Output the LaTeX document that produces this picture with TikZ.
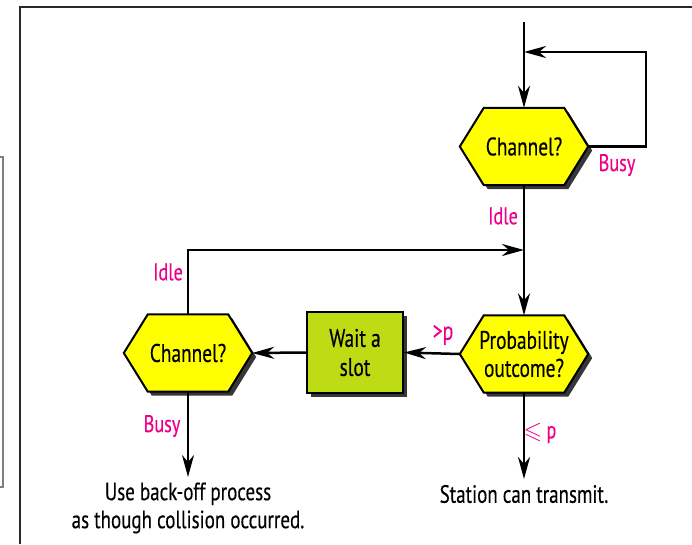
\documentclass[tikz,border=0pt]{standalone}
\usepackage{fontspec}
\usepackage{amssymb}
\setmainfont{PT Sans}[FakeStretch=0.76,FakeBold=0.35]
\usetikzlibrary{arrows.meta,backgrounds}
\definecolor{hexyellow}{RGB}{255,255,0}
\definecolor{boxgreen}{RGB}{190,220,20}
\definecolor{labelpink}{RGB}{236,0,140}
\definecolor{shadowgray}{RGB}{55,55,55}
\definecolor{framegray}{RGB}{40,40,40}
\newcommand{\hexpath}[2]{% #1 node, #2 shift
  ([shift={#2}]#1.west) -- ([shift={#2},xshift=24pt]#1.north west) -- ([shift={#2},xshift=-24pt]#1.north east) -- ([shift={#2}]#1.east) -- ([shift={#2},xshift=-24pt]#1.south east) -- ([shift={#2},xshift=24pt]#1.south west) -- cycle}
\newcommand{\drawhex}[1]{%
  \fill[shadowgray] \hexpath{#1}{(4,4)};
  \filldraw[fill=hexyellow, draw=black, line width=2pt, line join=miter] \hexpath{#1}{(0,0)};}
\begin{document}
\begin{tikzpicture}[x=1pt,y=-1pt,
  hexnode/.style={minimum width=128pt, minimum height=77pt, inner sep=0pt, align=center,
    font=\fontsize{25.5}{28}\selectfont},
  boxnode/.style={minimum width=96pt, minimum height=81pt, inner sep=0pt, align=center,
    fill=boxgreen, draw=black, line width=2pt, font=\fontsize{25.5}{29}\selectfont},
  lbl/.style={text=labelpink, inner sep=0pt, font=\fontsize{24}{26}\selectfont},
  txt/.style={inner sep=0pt, align=center, font=\fontsize{25}{28}\selectfont},
  conn/.style={draw=black, line width=2.5pt, -{Stealth[length=22pt,width=12pt,inset=7pt]}},
]
\useasboundingbox (0,0) rectangle (692,544);
% frame remnants
\draw[framegray, line width=2pt] (20,544) -- (20,7) -- (692,7);
\draw[gray, line width=1.5pt] (-10,157) rectangle (3,487);

% nodes
\node[hexnode] (ch1) at (524,146.5) {Channel?};
\node[hexnode] (prob) at (524,354) {Probability\\outcome?};
\node[hexnode] (ch2) at (188,353) {Channel?};
\fill[shadowgray] (311,316) rectangle (407,397);
\node[boxnode] (wait) at (355,352.5) {Wait a\\slot};

\begin{pgfonlayer}{background}
  \drawhex{ch1}
  \drawhex{prob}
  \drawhex{ch2}
\end{pgfonlayer}

\coordinate (start) at (524,22);
\coordinate (join1) at (524,52);
\coordinate (join2) at (524,250);
\coordinate (end1) at (188,477);
\coordinate (end2) at (524,479);

% connectors
\draw[conn] (start) -- (ch1.north);
\draw[conn] (ch1.east) -- ++(58,0) |- (join1);
\draw[conn] (ch1.south) -- (prob.north);
\draw[conn] (ch2.north) |- (join2);
\draw[conn] (prob.west) -- (wait.east);
\draw[conn] (wait.west) -- (ch2.east);
\draw[conn] (ch2.south) -- (end1);
\draw[conn] (prob.south) -- (end2);

% labels
\node[lbl] (busy1) at (617,165) {Busy};
\node[lbl] (idle1) at (503,216) {Idle};
\node[lbl] (idle2) at (168,272) {Idle};
\node[lbl] (busy2) at (162,426) {Busy};
\node[lbl] (gtp) at (443,335) {\fontsize{26}{28}\selectfont >p};
\node[lbl] (lep) at (540,433) {$\leqslant$\,p};

\node[txt] (backoff) at (188,508) {Use back-off process\\as though collision occurred.};
\node[txt] (station) at (524,494) {Station can transmit.};
\end{tikzpicture}
\end{document}
